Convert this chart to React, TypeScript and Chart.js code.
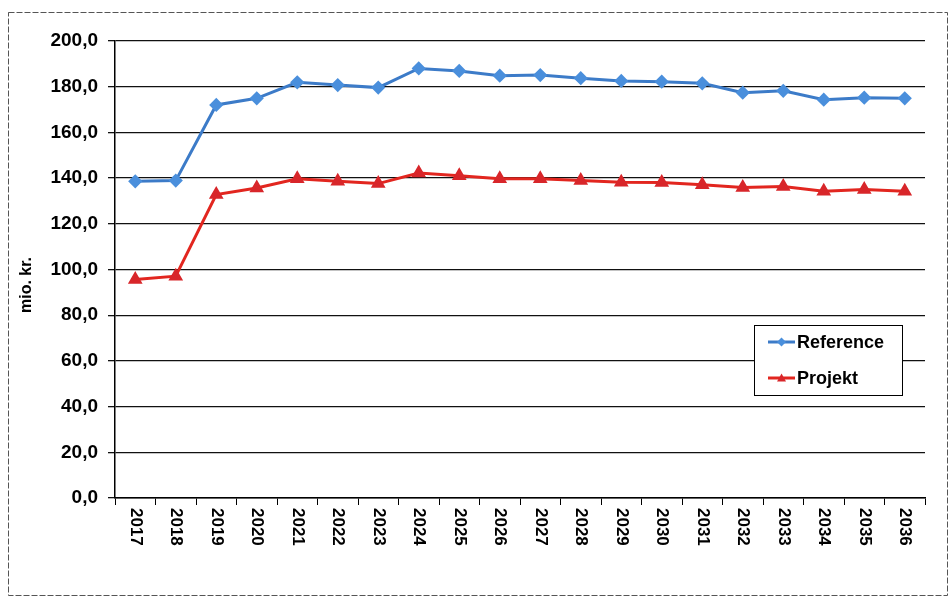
import React, { useEffect, useRef } from 'react';
import { Chart, registerables } from 'chart.js';

Chart.register(...registerables);

const years = ['2017', '2018', '2019', '2020', '2021', '2022', '2023', '2024', '2025', '2026', '2027', '2028', '2029', '2030', '2031', '2032', '2033', '2034', '2035', '2036'];
const referenceValues = [138.6, 138.9, 172.0, 174.9, 181.9, 180.7, 179.6, 188.0, 186.9, 184.8, 185.1, 183.7, 182.5, 182.2, 181.5, 177.4, 178.2, 174.3, 175.2, 174.9];
const projektValues = [95.6, 97.1, 132.8, 135.7, 139.7, 138.6, 137.6, 142.2, 141.0, 139.7, 139.7, 139.0, 138.2, 138.1, 137.1, 135.9, 136.3, 134.2, 135.0, 134.2];
const seriesNames = ['Reference', 'Projekt'];
const yMin = 0;
const yMax = 200;
const yStep = 20;
const yTitle = 'mio. kr.';

const FONT = "'Liberation Sans', Arial, Helvetica, sans-serif";
const BLUE = '#3c7bc8';
const BLUE_PT = '#4a8fdc';
const RED = '#e2261f';
const RED_PT = '#d8262a';

function drawDiamond(ctx: CanvasRenderingContext2D, x: number, y: number, r: number, color: string) {
  ctx.beginPath();
  ctx.moveTo(x, y - r);
  ctx.lineTo(x + r, y);
  ctx.lineTo(x, y + r);
  ctx.lineTo(x - r, y);
  ctx.closePath();
  ctx.fillStyle = color;
  ctx.fill();
}

function drawTriangle(ctx: CanvasRenderingContext2D, x: number, y: number, r: number, color: string) {
  ctx.beginPath();
  ctx.moveTo(x, y - r);
  ctx.lineTo(x + r, y + r * 0.75);
  ctx.lineTo(x - r, y + r * 0.75);
  ctx.closePath();
  ctx.fillStyle = color;
  ctx.fill();
}

const decorPlugin = {
  id: 'decor',
  afterDraw(chart: any) {
    const ctx: CanvasRenderingContext2D = chart.ctx;
    const xScale = chart.scales.x;
    const area = chart.chartArea;
    ctx.save();
    // x tick labels, rotated clockwise
    ctx.fillStyle = '#000';
    ctx.font = `bold 17px ${FONT}`;
    ctx.textAlign = 'left';
    ctx.textBaseline = 'middle';
    years.forEach((yr, i) => {
      const x = xScale.getPixelForValue(i);
      ctx.save();
      ctx.translate(x, area.bottom + 10);
      ctx.rotate(Math.PI / 2);
      ctx.fillText(yr, 0, 0);
      ctx.restore();
    });
    // y title
    ctx.save();
    ctx.font = `bold 16px ${FONT}`;
    ctx.textAlign = 'center';
    ctx.textBaseline = 'middle';
    ctx.translate(27, 285);
    ctx.rotate(-Math.PI / 2);
    ctx.fillText(yTitle, 0, 0);
    ctx.restore();
    // legend
    const lx = 754, ly = 325, lw = 148, lh = 70;
    ctx.fillStyle = '#fff';
    ctx.fillRect(lx, ly, lw, lh);
    ctx.strokeStyle = '#000';
    ctx.lineWidth = 1;
    ctx.strokeRect(lx + 0.5, ly + 0.5, lw, lh);
    const entries = [
      { name: seriesNames[0], color: BLUE, pt: BLUE_PT, shape: 'd', y: ly + 17 },
      { name: seriesNames[1], color: RED, pt: RED_PT, shape: 't', y: ly + 53 },
    ];
    entries.forEach((e) => {
      ctx.strokeStyle = e.color;
      ctx.lineWidth = 3;
      ctx.beginPath();
      ctx.moveTo(lx + 14, e.y);
      ctx.lineTo(lx + 41, e.y);
      ctx.stroke();
      if (e.shape === 'd') drawDiamond(ctx, lx + 27.5, e.y, 4.5, e.pt);
      else drawTriangle(ctx, lx + 27.5, e.y, 4.5, e.pt);
      ctx.fillStyle = '#000';
      ctx.font = `bold 18px ${FONT}`;
      ctx.textAlign = 'left';
      ctx.textBaseline = 'middle';
      ctx.fillText(e.name, lx + 43, e.y + 1);
    });
    // outer frame
    ctx.strokeStyle = '#555';
    ctx.lineWidth = 1;
    ctx.setLineDash([6, 2]);
    ctx.strokeRect(8.5, 12.5, 939, 583);
    ctx.restore();
  },
};

export default function App() {
  const ref = useRef<HTMLCanvasElement | null>(null);
  useEffect(() => {
    if (!ref.current) return;
    const chart = new Chart(ref.current, {
      type: 'line',
      data: {
        labels: years,
        datasets: [
          {
            label: seriesNames[0],
            data: referenceValues,
            borderColor: BLUE,
            backgroundColor: BLUE_PT,
            pointBackgroundColor: BLUE_PT,
            pointBorderColor: BLUE_PT,
            pointStyle: 'rectRot',
            pointRadius: 5,
            borderWidth: 3,
            tension: 0,
          },
          {
            label: seriesNames[1],
            data: projektValues,
            borderColor: RED,
            backgroundColor: RED_PT,
            pointBackgroundColor: RED_PT,
            pointBorderColor: RED_PT,
            pointStyle: 'triangle',
            pointRadius: 5.5,
            borderWidth: 3,
            tension: 0,
          },
        ],
      },
      options: {
        responsive: false,
        animation: false,
        devicePixelRatio: 1,
        layout: { padding: { top: 41, right: 24, left: 0, bottom: 0 } },
        plugins: { legend: { display: false }, tooltip: { enabled: false } },
        scales: {
          x: {
            type: 'category',
            offset: true,
            grid: { offset: true, drawOnChartArea: false, drawTicks: true, tickLength: 7, color: '#000', lineWidth: 1 },
            border: { color: '#000', width: 1.5 },
            ticks: { display: false },
            afterFit: (s: any) => { s.height = 100; },
          },
          y: {
            min: yMin,
            max: yMax,
            ticks: {
              stepSize: yStep,
              color: '#000',
              padding: 10,
              font: { family: FONT, size: 19, weight: 'bold' },
              callback: (v: any) => Number(v).toFixed(1).replace('.', ','),
            },
            grid: { color: '#111', lineWidth: 1.3, tickLength: 7 },
            border: { color: '#000', width: 1.5 },
            afterFit: (s: any) => { s.width = 115; },
          },
        },
      },
      plugins: [decorPlugin],
    } as any);
    return () => chart.destroy();
  }, []);
  return (
    <div style={{ position: 'fixed', left: 0, top: 0, width: 949, height: 598, background: '#fff' }}>
      <canvas ref={ref} width={949} height={598} />
    </div>
  );
}
